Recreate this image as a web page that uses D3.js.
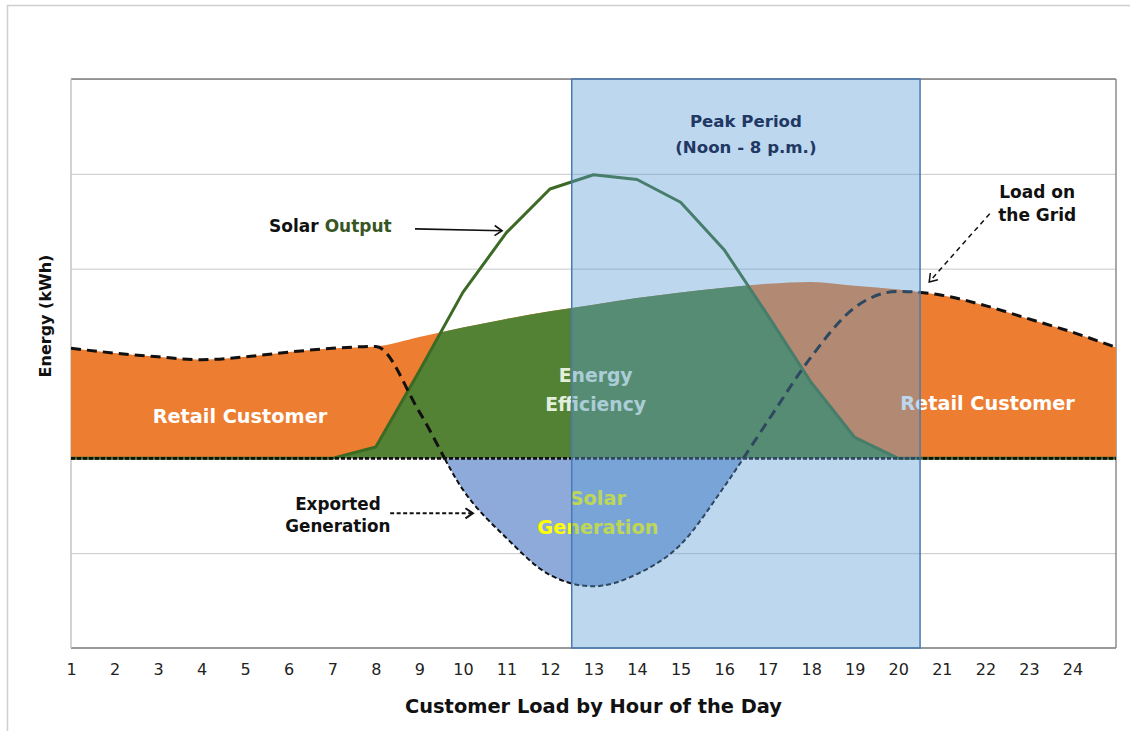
<!DOCTYPE html>
<html>
<head>
<meta charset="utf-8">
<script src="https://cdn.jsdelivr.net/npm/d3@7"></script>
<style>
  body { margin: 0; background: #fff; }
  svg { display: block; font-family: "DejaVu Sans", sans-serif; }
</style>
</head>
<body>
<svg id="chart"></svg>
<script>
// Values, in gridline units (one unit = one gridline step)
const hours = [1, 2, 3, 4, 5, 6, 7, 8, 9, 10, 11, 12, 13, 14, 15, 16, 17, 18, 19, 20, 21, 22, 23, 24, 25];
const customerLoad = [1.16, 1.11, 1.07, 1.04, 1.07, 1.12, 1.16, 1.18, 1.28, 1.38, 1.47, 1.55, 1.62,
                      1.69, 1.75, 1.80, 1.84, 1.86, 1.82, 1.78, 1.72, 1.61, 1.47, 1.33, 1.17];
const solarOutput = [0, 0, 0, 0, 0, 0, 0, 0.12, 0.92, 1.75, 2.38, 2.84, 2.99,
                     2.94, 2.70, 2.20, 1.51, 0.80, 0.22, 0, 0, 0, 0, 0, 0];
const gridLoad = [1.16, 1.11, 1.07, 1.04, 1.07, 1.12, 1.16, 1.18, 0.49, -0.33, -0.84, -1.23, -1.35,
                  -1.22, -0.91, -0.30, 0.39, 1.07, 1.59, 1.76, 1.72, 1.61, 1.47, 1.33, 1.17];
const tickHours = [1, 2, 3, 4, 5, 6, 7, 8, 9, 10, 11, 12, 13, 14, 15, 16, 17, 18, 19, 20, 21, 22, 23, 24];
const gridValues = [-2, -1, 0, 1, 2, 3, 4];
const peakPeriod = [12.5, 20.5];

class SolarLoadChart {

    constructor(_config, _data) {
        this.config = {
            parentElement: _config.parentElement,
            containerWidth: _config.containerWidth || 1130,
            containerHeight: _config.containerHeight || 731,
            margin: _config.margin || { top: 79, right: 14, bottom: 83, left: 71 }
        }
        this.data = _data;
        this.initVis();
    }

    initVis() {
        let vis = this;

        vis.width = vis.config.containerWidth - vis.config.margin.left - vis.config.margin.right;
        vis.height = vis.config.containerHeight - vis.config.margin.top - vis.config.margin.bottom;

        vis.xScale = d3.scaleLinear()
            .domain([1, 25])
            .range([0, vis.width]);

        vis.yScale = d3.scaleLinear()
            .domain([-2, 4])
            .range([vis.height, 0]);

        vis.svg = d3.select(vis.config.parentElement)
            .attr('width', vis.config.containerWidth)
            .attr('height', vis.config.containerHeight);

        // faint frame of the original figure
        vis.svg.append('path')
            .attr('d', `M7.5,${vis.config.containerHeight} V5.5 H${vis.config.containerWidth}`)
            .attr('fill', 'none')
            .attr('stroke', '#cfcfcf')
            .attr('stroke-width', 1.5);

        vis.chart = vis.svg.append('g')
            .attr('transform', `translate(${vis.config.margin.left},${vis.config.margin.top})`);

        vis.defs = vis.svg.append('defs');

        vis.renderVis();
    }

    renderVis() {
        let vis = this;
        const x = d => vis.xScale(d.hour);
        const zeroY = vis.yScale(0);

        // horizontal gridlines
        const gridG = vis.chart.append('g')
            .call(d3.axisLeft(vis.yScale).tickValues(gridValues).tickSize(-vis.width).tickFormat(''));
        gridG.select('.domain').remove();
        gridG.selectAll('line').attr('stroke', '#c8c8c8').attr('stroke-width', 1);

        // plot border
        vis.chart.append('line').attr('x1', 0).attr('x2', vis.width).attr('y1', 0).attr('y2', 0)
            .attr('stroke', '#7f7f7f').attr('stroke-width', 1.5);
        vis.chart.append('line').attr('x1', 0).attr('x2', vis.width).attr('y1', vis.height).attr('y2', vis.height)
            .attr('stroke', '#999').attr('stroke-width', 2);
        vis.chart.append('line').attr('x1', 0).attr('x2', 0).attr('y1', 0).attr('y2', vis.height)
            .attr('stroke', '#c4c4c4').attr('stroke-width', 1.5);
        vis.chart.append('line').attr('x1', vis.width).attr('x2', vis.width).attr('y1', 0).attr('y2', vis.height)
            .attr('stroke', '#8c8c8c').attr('stroke-width', 1.5);

        const loadArea = d3.area()
            .x(x).y0(zeroY).y1(d => vis.yScale(d.load))
            .curve(d3.curveMonotoneX);
        const solarArea = d3.area()
            .x(x).y0(zeroY).y1(d => vis.yScale(d.solar));
        const solarLine = d3.line()
            .x(x).y(d => vis.yScale(d.solar));
        const gridArea = d3.area()
            .x(x).y0(zeroY).y1(d => vis.yScale(d.grid))
            .curve(d3.curveMonotoneX);
        const gridLine = d3.line()
            .x(x).y(d => vis.yScale(d.grid))
            .curve(d3.curveMonotoneX);

        // clip paths
        vis.defs.append('clipPath').attr('id', 'load-clip')
            .append('path').attr('d', loadArea(vis.data))
            .attr('transform', `translate(${vis.config.margin.left},${vis.config.margin.top})`);
        vis.chart.append('clipPath').attr('id', 'above-zero')
            .append('rect').attr('x', 0).attr('y', 0).attr('width', vis.width).attr('height', zeroY);
        vis.chart.append('clipPath').attr('id', 'below-zero')
            .append('rect').attr('x', 0).attr('y', zeroY).attr('width', vis.width).attr('height', vis.height - zeroY);

        vis.marks = vis.chart.append('g');

        // Retail customer load
        vis.marks.append('path')
            .attr('d', loadArea(vis.data))
            .attr('fill', '#ed7d31');

        // Solar output that covers the load (energy efficiency)
        vis.marks.append('g')
            .attr('clip-path', 'url(#load-clip)')
            .attr('transform', `translate(${-vis.config.margin.left},${-vis.config.margin.top})`)
            .append('path')
            .attr('transform', `translate(${vis.config.margin.left},${vis.config.margin.top})`)
            .attr('d', solarArea(vis.data))
            .attr('fill', '#548235');

        // exported generation
        vis.marks.append('path')
            .attr('d', gridArea(vis.data))
            .attr('clip-path', 'url(#below-zero)')
            .attr('fill', '#8eaadb');

        // solar output line
        vis.marks.append('path')
            .attr('d', solarLine(vis.data))
            .attr('fill', 'none')
            .attr('stroke', '#3b6a25')
            .attr('stroke-width', 3)
            .attr('stroke-linejoin', 'round');

        // zero line
        vis.marks.append('line')
            .attr('x1', 0).attr('x2', vis.width)
            .attr('y1', zeroY).attr('y2', zeroY)
            .attr('stroke', '#111')
            .attr('stroke-width', 2.6)
            .attr('stroke-dasharray', '4,2');

        // load on the grid
        vis.marks.append('path')
            .attr('d', gridLine(vis.data))
            .attr('clip-path', 'url(#above-zero)')
            .attr('fill', 'none')
            .attr('stroke', '#111')
            .attr('stroke-width', 3)
            .attr('stroke-dasharray', '10,6');
        vis.marks.append('path')
            .attr('d', gridLine(vis.data))
            .attr('clip-path', 'url(#below-zero)')
            .attr('fill', 'none')
            .attr('stroke', '#111')
            .attr('stroke-width', 2)
            .attr('stroke-dasharray', '5,3');

        // labels inside the areas
        const areaLabel = (h, v, txt, size, color, weight) => vis.chart.append('text')
            .attr('x', vis.xScale(h))
            .attr('y', vis.yScale(v))
            .attr('text-anchor', 'middle')
            .attr('font-size', size)
            .attr('font-weight', weight || 'bold')
            .attr('fill', color)
            .text(txt);

        areaLabel(4.88, 0.37, 'Retail Customer', 19.3, '#fff');
        areaLabel(22.05, 0.51, 'Retail Customer', 19.3, '#fff');
        areaLabel(13.05, 0.80, 'Energy', 18.8, '#e2efda');
        areaLabel(13.05, 0.50, 'Efficiency', 18.8, '#e2efda');
        areaLabel(13.1, -0.49, 'Solar', 19.3, '#ffff00');
        areaLabel(13.1, -0.80, 'Generation', 19.3, '#ffff00');

        // peak period overlay
        vis.chart.append('rect')
            .attr('x', vis.xScale(peakPeriod[0]))
            .attr('y', 0)
            .attr('width', vis.xScale(peakPeriod[1]) - vis.xScale(peakPeriod[0]))
            .attr('height', vis.height)
            .attr('fill', '#5b9bd5')
            .attr('fill-opacity', 0.4)
            .attr('stroke', '#4a7ab0')
            .attr('stroke-width', 1.5);

        const peakMid = (peakPeriod[0] + peakPeriod[1]) / 2;
        areaLabel(peakMid, 3.49, 'Peak Period', 16.6, '#1f3864');
        areaLabel(peakMid, 3.22, '(Noon - 8 p.m.)', 16.6, '#1f3864');

        // annotations
        const so = vis.chart.append('text')
            .attr('x', vis.xScale(5.55))
            .attr('y', vis.yScale(2.39))
            .attr('font-size', 17)
            .attr('font-weight', 'bold')
            .attr('fill', '#111');
        so.append('tspan').text('Solar ');
        so.append('tspan').attr('fill', '#375623').text('Output');

        areaLabel(23.19, 2.75, 'Load on', 17, '#111');
        areaLabel(23.19, 2.50, 'the Grid', 17, '#111');
        areaLabel(7.13, -0.54, 'Exported', 16.8, '#111');
        areaLabel(7.13, -0.78, 'Generation', 16.8, '#111');

        vis.arrow(8.9, 2.42, 10.9, 2.40, null, 1.6);
        vis.arrow(22.1, 2.58, 20.71, 1.86, '5,4', 1.5);
        vis.arrow(8.33, -0.58, 10.23, -0.58, '4,2.5', 2);

        // x axis
        const xAxisG = vis.chart.append('g')
            .attr('transform', `translate(0,${vis.height})`)
            .call(d3.axisBottom(vis.xScale).tickValues(tickHours).tickSize(0).tickPadding(16).tickFormat(d => d));
        xAxisG.select('.domain').remove();
        xAxisG.selectAll('text')
            .attr('font-family', '"DejaVu Sans", sans-serif')
            .attr('font-size', 16)
            .attr('fill', '#222');

        vis.svg.append('text')
            .attr('x', vis.config.margin.left + vis.width / 2)
            .attr('y', 713)
            .attr('text-anchor', 'middle')
            .attr('font-size', 19.4)
            .attr('font-weight', 'bold')
            .attr('fill', '#111')
            .text('Customer Load by Hour of the Day');

        vis.svg.append('text')
            .attr('transform', 'translate(51,316) rotate(-90)')
            .attr('text-anchor', 'middle')
            .attr('font-size', 16)
            .attr('font-weight', 'bold')
            .attr('fill', '#111')
            .text('Energy (kWh)');
    }

    // open-headed arrow between two points given in data units
    arrow(h1, v1, h2, v2, dash, w) {
        let vis = this;
        const x1 = vis.xScale(h1), y1 = vis.yScale(v1);
        const x2 = vis.xScale(h2), y2 = vis.yScale(v2);
        const ang = Math.atan2(y2 - y1, x2 - x1);
        const len = 9, spread = 0.6;
        vis.chart.append('line')
            .attr('x1', x1).attr('y1', y1).attr('x2', x2).attr('y2', y2)
            .attr('stroke', '#111')
            .attr('stroke-width', w)
            .attr('stroke-dasharray', dash);
        vis.chart.append('path')
            .attr('d', `M${x2 - len * Math.cos(ang - spread)},${y2 - len * Math.sin(ang - spread)}
                        L${x2},${y2}
                        L${x2 - len * Math.cos(ang + spread)},${y2 - len * Math.sin(ang + spread)}`)
            .attr('fill', 'none')
            .attr('stroke', '#111')
            .attr('stroke-width', w);
    }
}

const rows = hours.map((h, i) => ({
    hour: h,
    load: customerLoad[i],
    solar: solarOutput[i],
    grid: gridLoad[i]
}));

new SolarLoadChart({ parentElement: '#chart' }, rows);
</script>
</body>
</html>
